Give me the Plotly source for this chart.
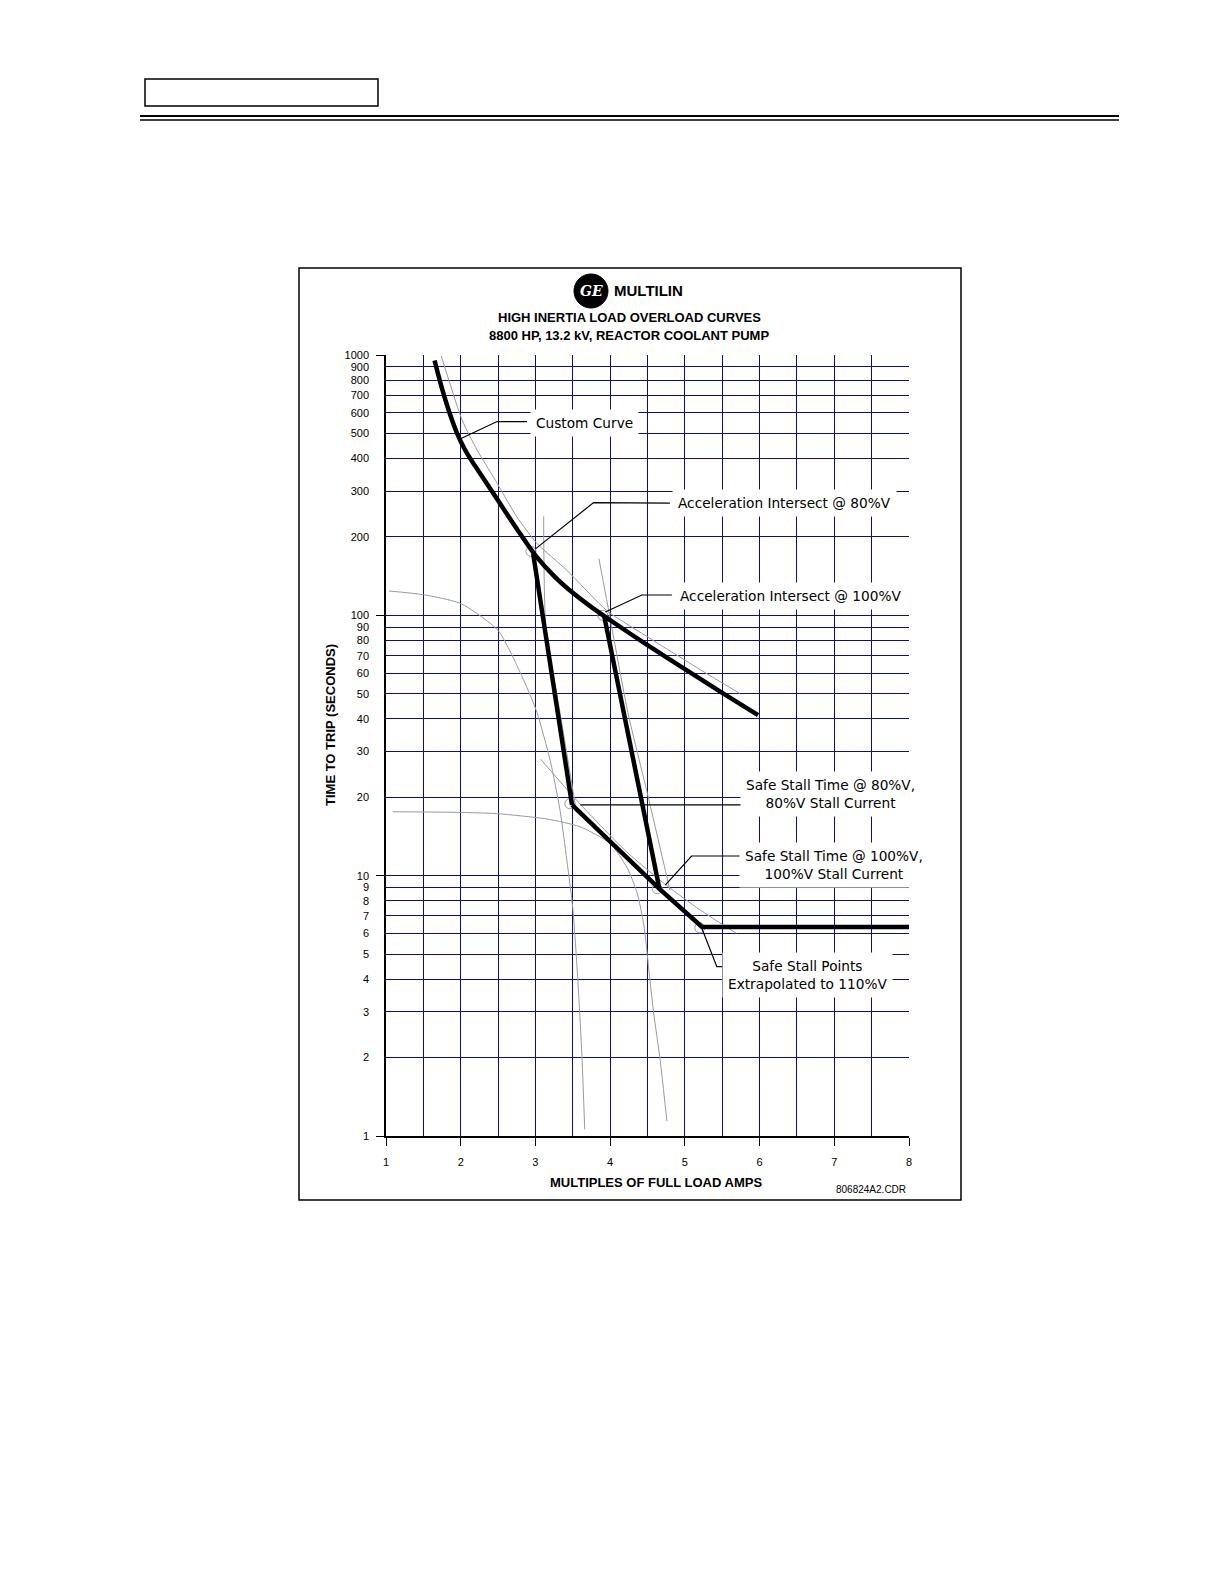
import plotly.graph_objects as go

# ---------------- data ----------------
# thick custom overload curve
custom_x = [1.65, 1.75, 1.85, 1.95, 2.05, 2.15, 2.3, 2.5, 2.75, 3.0, 3.25, 3.5, 3.75, 4.0, 4.5, 5.0, 5.5, 5.98]
custom_y = [953, 743, 600, 501.5, 436.5, 391, 337, 276, 215, 170, 141.5, 122, 107.5, 95.8, 76.8, 62.1, 50.4, 41.4]
# thick acceleration lines
accel80_x = [2.97, 3.49]
accel80_y = [172, 18.7]
accel100_x = [3.92, 4.66]
accel100_y = [99.5, 8.9]
# thick safe-stall line
stall_x = [3.49, 4.66, 5.23, 8.0]
stall_y = [18.7, 8.9, 6.35, 6.35]

# thin motor curves
acc80_curve_x = [1.04, 1.5, 2.0, 2.5, 2.84, 3.02, 3.2, 3.33, 3.42, 3.5, 3.56, 3.62, 3.66]
acc80_curve_y = [124, 120, 111, 87.5, 56.6, 42.4, 27.5, 17.8, 11.5, 7.5, 4.3, 2.1, 1.06]
acc100_curve_x = [1.09, 2.0, 2.49, 3.16, 3.6, 4.0, 4.23, 4.36, 4.45, 4.52, 4.58, 4.67, 4.76]
acc100_curve_y = [17.6, 17.5, 17.3, 16.5, 15.4, 13.3, 10.7, 8.6, 6.5, 4.3, 3.0, 1.95, 1.14]
running_limit_x = [1.74, 2.02, 2.22, 2.49, 2.75, 3.02, 3.42, 3.96, 4.49, 5.2, 5.74]
running_limit_y = [990, 562, 431, 321, 239, 189, 149, 104, 83, 62, 50]
accel80_limit_x = [3.11, 3.14, 3.35, 3.55]
accel80_limit_y = [240, 90, 39, 17.5]
accel100_limit_x = [3.85, 4.01, 4.24, 4.5, 4.8]
accel100_limit_y = [165, 94, 42, 20.6, 8.8]
stall_limit_x = [3.07, 3.55, 4.2, 4.75, 5.2, 5.69]
stall_limit_y = [28, 19.5, 12.5, 9.2, 7.4, 6.0]
circle_x = [2.94, 3.9, 3.46, 4.63, 5.2]
circle_y = [176, 100, 18.9, 8.9, 6.3]

# leader lines of the callouts
lead_custom_x = [1.99, 2.487, 2.888]
lead_custom_y = [476, 555, 555]
lead_acc80_x = [3.0, 3.778, 4.80]
lead_acc80_y = [180, 271, 270]
lead_acc100_x = [3.935, 4.425, 4.826]
lead_acc100_y = [103, 119.7, 119.7]
lead_stall80_x = [3.6, 5.78]
lead_stall80_y = [18.7, 18.7]
lead_stall100_x = [4.737, 5.09, 5.78]
lead_stall100_y = [9.2, 11.9, 11.9]
lead_stall110_x = [5.227, 5.428, 5.85]
lead_stall110_y = [6.28, 4.47, 4.47]

x_ticks = [1, 2, 3, 4, 5, 6, 7, 8]
x_minor = [1.5, 2.5, 3.5, 4.5, 5.5, 6.5, 7.5]
y_ticks = [1, 2, 3, 4, 5, 6, 7, 8, 9, 10, 20, 30, 40, 50, 60, 70, 80, 90,
           100, 200, 300, 400, 500, 600, 700, 800, 900, 1000]
y_major = [1, 10, 100, 1000]

# ---------------- layout geometry ----------------
FIG_W, FIG_H = 1208, 1568
ML, MT, PW, PH = 378, 347, 523, 781
OFF = 8  # body margin of the page


def P(xp, yp):
    """page pixel -> paper coordinates"""
    return ((xp - OFF) - ML) / PW, 1 - ((yp - OFF) - MT) / PH


NAVY = "#0e0e7c"
GRAY = "#9a9a9a"
TXT = "DejaVu Sans"
ARIAL = "Liberation Sans, Arial"

fig = go.Figure()


def line(x, y, color, width, smooth=0.6):
    fig.add_trace(go.Scatter(x=x, y=y, mode="lines", hoverinfo="skip",
                             line=dict(color=color, width=width, shape="spline", smoothing=smooth)))


def straight(x, y, color, width):
    fig.add_trace(go.Scatter(x=x, y=y, mode="lines", hoverinfo="skip",
                             line=dict(color=color, width=width)))


# thin curves
line(acc80_curve_x, acc80_curve_y, GRAY, 1)
line(acc100_curve_x, acc100_curve_y, GRAY, 1)
line(running_limit_x, running_limit_y, GRAY, 1)
line(accel80_limit_x, accel80_limit_y, GRAY, 1)
line(accel100_limit_x, accel100_limit_y, GRAY, 1)
line(stall_limit_x, stall_limit_y, GRAY, 1)
fig.add_trace(go.Scatter(x=circle_x, y=circle_y, mode="markers", hoverinfo="skip",
                         marker=dict(symbol="circle-open", size=10, color=GRAY, line=dict(width=1))))

# thick curves
line(custom_x, custom_y, "black", 4.5, smooth=0.8)
straight(accel80_x, accel80_y, "black", 4.5)
straight(accel100_x, accel100_y, "black", 4.5)
straight(stall_x, stall_y, "black", 4.5)

# leaders
for lx, ly in [(lead_custom_x, lead_custom_y), (lead_acc80_x, lead_acc80_y),
               (lead_acc100_x, lead_acc100_y), (lead_stall80_x, lead_stall80_y),
               (lead_stall100_x, lead_stall100_y), (lead_stall110_x, lead_stall110_y)]:
    straight(lx, ly, "black", 1.2)

annotations = []


def note(text, xp, yp, size=13.7, font=TXT, bg="white", weight="normal", angle=0, color="black"):
    px_, py_ = P(xp, yp)
    annotations.append(dict(text=text, x=px_, y=py_, xref="paper", yref="paper",
                            xanchor="center", yanchor="middle", showarrow=False,
                            textangle=angle, bgcolor=bg, borderpad=5,
                            font=dict(family=font, size=size, color=color, weight=weight)))


note("Custom Curve", 584, 423)
note("Acceleration Intersect @ 80%V", 784, 503)
note("Acceleration Intersect @ 100%V", 790, 596)
note("Safe Stall Time @ 80%V,<br>80%V Stall Current", 830, 794)
note("Safe Stall Time @ 100%V,<br>100%V Stall Current", 834, 865)
note("Safe Stall Points<br>Extrapolated to 110%V", 807, 975)

note("HIGH INERTIA LOAD OVERLOAD CURVES", 629, 318, size=13, font=ARIAL, bg=None, weight="bold")
note("8800 HP, 13.2 kV, REACTOR COOLANT PUMP", 629, 335, size=13, font=ARIAL, bg=None, weight="bold")
note("MULTILIN", 648, 291, size=15, font=ARIAL, bg=None, weight="bold")
note("<i>GE</i>", 591, 291, size=14, font="DejaVu Serif", bg=None, weight="bold", color="white")
note("TIME TO TRIP (SECONDS)", 330, 725, size=13, font=ARIAL, bg=None, weight="bold", angle=-90)
note("MULTIPLES OF FULL LOAD AMPS", 656, 1182, size=13, font=ARIAL, bg=None, weight="bold")
note("806824A2.CDR", 871, 1189, size=10, font=ARIAL, bg=None)

shapes = []


def rect(x0, y0, x1, y1, width=1.5, fill=None, kind="rect"):
    a0, b0 = P(x0, y0)
    a1, b1 = P(x1, y1)
    shapes.append(dict(type=kind, xref="paper", yref="paper", x0=a0, y0=b1, x1=a1, y1=b0,
                       line=dict(color="black", width=width), fillcolor=fill, layer="above"))


def hline(x0, x1, y, width):
    a0, b = P(x0, y)
    a1, _ = P(x1, y)
    shapes.append(dict(type="line", xref="paper", yref="paper", x0=a0, x1=a1, y0=b, y1=b,
                       line=dict(color="black", width=width)))


rect(145, 79, 378, 106, width=1.5)
hline(140, 1119, 116, 2)
hline(140, 1119, 120, 1.5)
rect(299, 268, 961, 1200, width=1.5)
rect(574, 274, 608, 308, width=1, fill="black", kind="circle")

fig.update_layout(
    width=FIG_W, height=FIG_H,
    margin=dict(l=ML, r=FIG_W - ML - PW, t=MT, b=FIG_H - MT - PH),
    paper_bgcolor="white", plot_bgcolor="white", showlegend=False,
    annotations=annotations, shapes=shapes,
    xaxis=dict(range=[1, 8], tickmode="array", tickvals=x_ticks,
               ticktext=[str(v) for v in x_ticks],
               ticks="outside", ticklen=8, tickcolor="black", tickwidth=1.2,
               ticklabelstandoff=7,
               showgrid=True, gridcolor=NAVY, gridwidth=1.3,
               minor=dict(tickmode="array", tickvals=x_minor, showgrid=True,
                          gridcolor=NAVY, gridwidth=1.3, ticks=""),
               showline=True, linecolor="black", linewidth=1.5, zeroline=False,
               tickfont=dict(family=ARIAL, size=11, color="black")),
    yaxis=dict(type="log", range=[0, 3], tickmode="array", tickvals=y_ticks,
               ticktext=[str(v) for v in y_ticks], ticks="",
               ticklabelstandoff=13,
               showgrid=True, gridcolor=NAVY, gridwidth=1.3,
               minor=dict(tickmode="array", tickvals=y_major, ticks="outside",
                          ticklen=8, tickcolor="black", tickwidth=1.2, showgrid=False),
               showline=True, linecolor="black", linewidth=1.5, zeroline=False,
               tickfont=dict(family=ARIAL, size=11, color="black")),
)

fig.write_html("out.html")
